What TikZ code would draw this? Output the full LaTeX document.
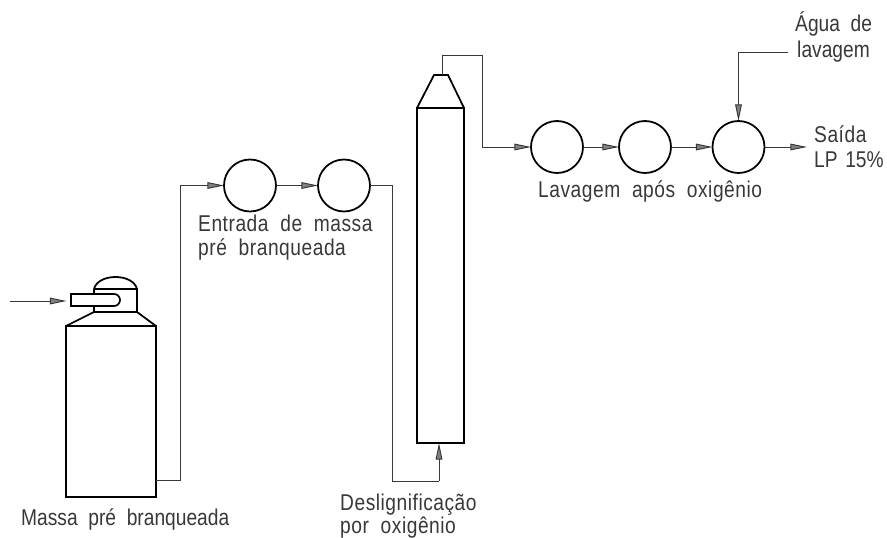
\documentclass[tikz,border=0pt]{standalone}
\usepackage{fontspec}
\setmainfont[WordSpace=2,FakeStretch=.84,LetterSpace=2.3]{Liberation Sans}
\usetikzlibrary{arrows.meta}
\definecolor{inkgray}{gray}{0.22}
\tikzset{
  vessel/.style={draw,line width=1.5pt,inner sep=0pt,outer sep=0pt},
  pump/.style={vessel,circle,minimum size=1.56cm},
  pipe/.style={line width=.8pt,color=inkgray},
  flow/.style={pipe,-{Stealth[inset=0pt,length=.5cm,width=.2cm,fill=gray]}},
  lbl/.style={anchor=base west,inner sep=0pt,text=inkgray,font=\fontsize{19.5}{22}\selectfont}
}
\begin{document}
\begin{tikzpicture}[x=.03cm,y=-.03cm]
  \useasboundingbox (0,0) rectangle (887,538);
  % tank
  \node[vessel,minimum width=2.7cm,minimum height=5.13cm] (tank) at (111,411.5) {};
  \coordinate (ntop) at (94,289);
  \draw[vessel] (tank.north west) -- (94,312) -- (137,312) -- (tank.north east);
  \draw[vessel] (ntop) -- (137,289) -- (137,312);
  \draw[vessel] (ntop) -- (94,294) (94,306) -- (94,312);
  \draw[vessel] (ntop) .. controls (98,273) and (133,273) .. (137,289);
  \draw[vessel] (71,294) -- (114,294) arc[start angle=-90,end angle=90,radius=6] -- (71,306) -- cycle;
  \coordinate (nozzle) at (66.5,301);
  \coordinate (inlet) at (10,301);
  \coordinate (tankout) at (156,480);
  % column
  \node[vessel,minimum width=1.41cm,minimum height=10.05cm] (col) at (440.5,275.5) {};
  \draw[vessel] (col.north west) -- (434,75) -- (448,75) -- (col.north east);
  \coordinate (coltop) at (442,75);
  % pumps
  \foreach \name/\pos in {p1/250,p2/344}
    \node[pump] (\name) at (\pos,185.5) {};
  \foreach \name/\pos in {p3/557,p4/645,p5/738.5}
    \node[pump] (\name) at (\pos,147) {};
  % connectors
  \draw[flow] (inlet) -- (nozzle);
  \draw[flow] (tankout) -- (180,480) -- (180,185.5) -- (p1.west);
  \draw[flow] (p1.east) -- (p2.west);
  \draw[pipe] (p2.east) -- (392,185.5) -- (392,481) -- (439,481);
  \draw[flow] (439,481) -- (439,443);
  \draw[flow] (coltop) -- (442,55) -- (482,55) -- (482,147) -- (p3.west);
  \draw[flow] (p3.east) -- (p4.west);
  \draw[flow] (p4.east) -- (p5.west);
  \coordinate (wash) at (788,52);
  \coordinate (exit) at (807,147);
  \draw[flow] (wash) -| (p5.north);
  \draw[flow] (p5.east) -- (exit);
  % labels
  \node[lbl] (t1) at (21,525) {\addfontfeature{LetterSpace=0}Massa pré branqueada};
  \node[lbl] (t2) at (198,232) {Entrada de massa};
  \node[lbl] (t3) at (198,255) {pré branqueada};
  \node[lbl] (t4) at (340,510) {Deslignificação};
  \node[lbl] (t5) at (340,533) {por oxigênio};
  \node[lbl] (t6) at (538,198) {Lavagem após oxigênio};
  \node[lbl] (t7) at (795,32) {\addfontfeature{LetterSpace=0}Água de};
  \node[lbl] (t8) at (797,58) {\addfontfeature{LetterSpace=0}lavagem};
  \node[lbl] (t9) at (814,143) {Saída};
  \node[lbl] (t10) at (814,168) {\addfontfeature{LetterSpace=0}\spaceskip=6.5pt LP 15\%};
\end{tikzpicture}
\end{document}
